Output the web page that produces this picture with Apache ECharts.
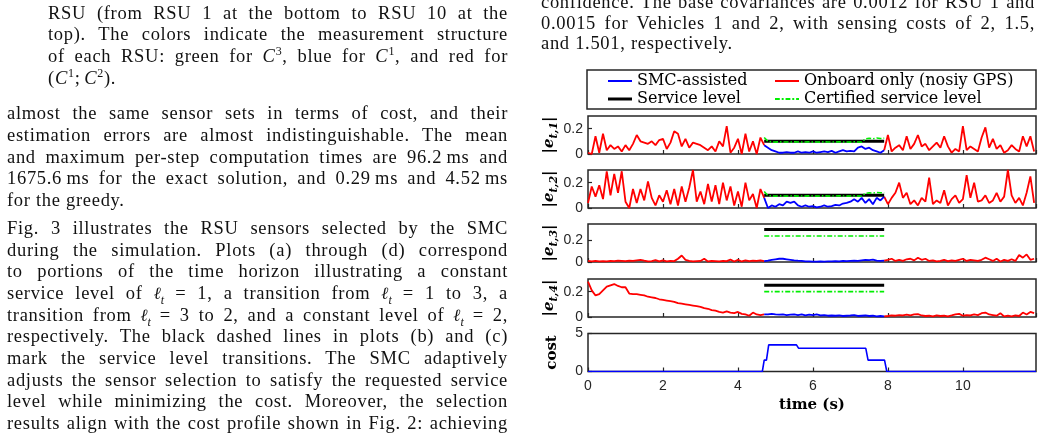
<!DOCTYPE html>
<html>
<head>
<meta charset="utf-8">
<script src="https://cdn.jsdelivr.net/npm/echarts@6/dist/echarts.min.js"></script>
<style>
html, body { margin: 0; padding: 0; background: #fff; overflow: hidden; }
#chart { position: absolute; left: 0; top: 0; width: 1045px; height: 439px; }
.ln {
	position: absolute; height: 20px; line-height: 20px;
	font-family: "Liberation Serif", serif; font-size: 18.5px; letter-spacing: 0.7px; color: #111;
	white-space: nowrap; text-align: justify; text-align-last: justify;
}
.ln.end { text-align: left; text-align-last: left; }
.ln sup, .ln sub { font-size: 12px; line-height: 0; }
.ln .m { display: inline-block; letter-spacing: 0; }
.ln .ell { font-family: "DejaVu Serif", serif; font-style: italic; font-size: 17px; }
</style>
</head>
<body>
<div id="chart"></div>

<!-- left column -->
<div class="ln" style="left:48px;top:3px;width:460px">RSU (from RSU 1 at the bottom to RSU 10 at the</div>
<div class="ln" style="left:48px;top:24px;width:460px">top). The colors indicate the measurement structure</div>
<div class="ln" style="left:48px;top:46px;width:460px">of each RSU: green for <i>C</i><sup>3</sup>, blue for <i>C</i><sup>1</sup>, and red for</div>
<div class="ln end" style="left:48px;top:68px;width:460px">(<i>C</i><sup>1</sup>;<span class="m">&#8201;</span><i>C</i><sup>2</sup>).</div>

<div class="ln" style="left:7px;top:103px;width:501px">almost the same sensor sets in terms of cost, and their</div>
<div class="ln" style="left:7px;top:125px;width:501px">estimation errors are almost indistinguishable. The mean</div>
<div class="ln" style="left:7px;top:147px;width:501px">and maximum per-step computation times are 96.2&#8201;ms and</div>
<div class="ln" style="left:7px;top:168px;width:501px">1675.6&#8201;ms for the exact solution, and 0.29&#8201;ms and 4.52&#8201;ms</div>
<div class="ln end" style="left:7px;top:190px;width:501px">for the greedy.</div>

<div class="ln" style="left:7px;top:218px;width:501px">Fig. 3 illustrates the RSU sensors selected by the SMC</div>
<div class="ln" style="left:7px;top:240px;width:501px">during the simulation. Plots (a) through (d) correspond</div>
<div class="ln" style="left:7px;top:261px;width:501px">to portions of the time horizon illustrating a constant</div>
<div class="ln" style="left:7px;top:283px;width:501px">service level of <span class="m"><span class="ell">ℓ</span><sub><i>t</i></sub></span> = 1, a transition from <span class="m"><span class="ell">ℓ</span><sub><i>t</i></sub></span> = 1 to 3, a</div>
<div class="ln" style="left:7px;top:305px;width:501px">transition from <span class="m"><span class="ell">ℓ</span><sub><i>t</i></sub></span> = 3 to 2, and a constant level of <span class="m"><span class="ell">ℓ</span><sub><i>t</i></sub></span> = 2,</div>
<div class="ln" style="left:7px;top:326px;width:501px">respectively. The black dashed lines in plots (b) and (c)</div>
<div class="ln" style="left:7px;top:348px;width:501px">mark the service level transitions. The SMC adaptively</div>
<div class="ln" style="left:7px;top:370px;width:501px">adjusts the sensor selection to satisfy the requested service</div>
<div class="ln" style="left:7px;top:391px;width:501px">level while minimizing the cost. Moreover, the selection</div>
<div class="ln" style="left:7px;top:413px;width:501px">results align with the cost profile shown in Fig. 2: achieving</div>

<!-- right column -->
<div class="ln" style="left:541px;top:-8px;width:494px">confidence. The base covariances are 0.0012 for RSU 1 and</div>
<div class="ln" style="left:541px;top:13px;width:494px">0.0015 for Vehicles 1 and 2, with sensing costs of 2, 1.5,</div>
<div class="ln end" style="left:541px;top:33px;width:494px">and 1.501, respectively.</div>

<script>
// sample step (s) of the error traces
const dt = 0.1
const tOn = 4.7   // SMC switched on
const tOff = 7.9  // SMC switched off

// |e_{t,1}|
const e1RedA = [0.01, 0.00, 0.14, 0.01, 0.16, 0.03, 0.07, 0.04, 0.06, 0.02, 0.07, 0.03, 0.08, 0.15, 0.10, 0.09, 0.08, 0.10, 0.07, 0.11, 0.12, 0.04, 0.09, 0.18, 0.16, 0.06, 0.12, 0.05, 0.09, 0.08, 0.07, 0.05, 0.03, 0.06, 0.02, 0.10, 0.06, 0.22, 0.01, 0.05, 0.12, 0.00, 0.16, 0.02, 0.10, 0.00, 0.13, 0.07]
const e1Smc = [0.07, 0.05, 0.03, 0.02, 0.01, 0.01, 0.015, 0.01, 0.01, 0.02, 0.01, 0.015, 0.01, 0.02, 0.01, 0.015, 0.02, 0.015, 0.025, 0.01, 0.02, 0.03, 0.02, 0.025, 0.02, 0.05, 0.06, 0.04, 0.05, 0.03, 0.02, 0.01, 0.03]
const e1RedB = [0.03, 0.15, 0.02, 0.05, 0.07, 0.03, 0.14, 0.04, 0.08, 0.15, 0.06, 0.08, 0.03, 0.06, 0.09, 0.05, 0.14, 0.06, 0.01, 0.04, 0.02, 0.22, 0.03, 0.06, 0.04, 0.02, 0.13, 0.21, 0.05, 0.12, 0.04, 0.07, 0.01, 0.03, 0.07, 0.04, 0.02, 0.14, 0.06, 0.14, 0.02]
const e1Cert = [0.13, 0.10, 0.095, 0.094, 0.096, 0.094, 0.095, 0.094, 0.096, 0.095, 0.094, 0.095, 0.096, 0.094, 0.095, 0.094, 0.096, 0.095, 0.094, 0.095, 0.096, 0.094, 0.095, 0.094, 0.096, 0.095, 0.094, 0.12, 0.125, 0.12, 0.126, 0.122, 0.125]

// |e_{t,2}|
const e2RedA = [0.04, 0.17, 0.09, 0.18, 0.07, 0.29, 0.10, 0.27, 0.12, 0.29, 0.05, 0.00, 0.15, 0.04, 0.15, 0.06, 0.21, 0.08, 0.02, 0.10, 0.05, 0.14, 0.03, 0.15, 0.02, 0.17, 0.05, 0.16, 0.30, 0.05, 0.13, 0.03, 0.19, 0.05, 0.18, 0.03, 0.20, 0.06, 0.17, 0.02, 0.13, 0.01, 0.20, 0.06, 0.11, 0.00, 0.15, 0.08]
const e2Smc = [0.08, 0.00, 0.02, 0.01, 0.03, 0.02, 0.05, 0.04, 0.05, 0.02, 0.01, 0.02, 0.01, 0.015, 0.005, 0.01, 0.02, 0.01, 0.015, 0.025, 0.02, 0.035, 0.04, 0.05, 0.07, 0.05, 0.08, 0.04, 0.07, 0.03, 0.08, 0.06, 0.09]
const e2RedB = [0.09, 0.03, 0.08, 0.12, 0.20, 0.08, 0.12, 0.03, 0.06, 0.02, 0.08, 0.05, 0.24, 0.03, 0.06, 0.04, 0.14, 0.02, 0.07, 0.10, 0.04, 0.07, 0.26, 0.08, 0.20, 0.05, 0.06, 0.10, 0.04, 0.06, 0.12, 0.05, 0.09, 0.30, 0.10, 0.04, 0.08, 0.02, 0.12, 0.25, 0.04]
const e2Cert = [0.13, 0.098, 0.095, 0.094, 0.096, 0.095, 0.094, 0.095, 0.096, 0.094, 0.095, 0.094, 0.096, 0.095, 0.094, 0.095, 0.096, 0.094, 0.095, 0.094, 0.096, 0.095, 0.094, 0.095, 0.096, 0.094, 0.095, 0.115, 0.12, 0.118, 0.122, 0.12, 0.12]

// |e_{t,3}|
const e3RedA = [0.01, 0.005, 0.01, 0.005, 0.008, 0.005, 0.01, 0.008, 0.012, 0.01, 0.008, 0.012, 0.01, 0.015, 0.02, 0.012, 0.005, 0.008, 0.018, 0.005, 0.015, 0.005, 0.01, 0.008, 0.03, 0.06, 0.02, 0.01, 0.005, 0.008, 0.01, 0.03, 0.005, 0.01, 0.008, 0.005, 0.01, 0.008, 0.022, 0.005, 0.02, 0.005, 0.015, 0.008, 0.012, 0.01, 0.015, 0.008]
const e3Smc = [0.008, 0.012, 0.02, 0.025, 0.03, 0.03, 0.025, 0.02, 0.015, 0.012, 0.01, 0.005, 0.006, 0.004, 0.003, 0.005, 0.004, 0.006, 0.005, 0.008, 0.006, 0.01, 0.008, 0.01, 0.012, 0.01, 0.015, 0.02, 0.018, 0.022, 0.012, 0.01, 0.012]
const e3RedB = [0.012, 0.02, 0.03, 0.01, 0.02, 0.01, 0.025, 0.03, 0.015, 0.04, 0.02, 0.03, 0.01, 0.015, 0.005, 0.01, 0.02, 0.008, 0.015, 0.01, 0.02, 0.03, 0.01, 0.02, 0.015, 0.01, 0.02, 0.04, 0.025, 0.01, 0.03, 0.005, 0.02, 0.01, 0.025, 0.01, 0.065, 0.04, 0.07, 0.02, 0.03]
const e3Cert = 0.24

// |e_{t,4}|
const e4RedA = [0.28, 0.21, 0.17, 0.18, 0.21, 0.24, 0.25, 0.26, 0.245, 0.235, 0.235, 0.185, 0.18, 0.18, 0.175, 0.17, 0.16, 0.155, 0.15, 0.14, 0.135, 0.13, 0.125, 0.12, 0.11, 0.105, 0.10, 0.095, 0.09, 0.085, 0.08, 0.07, 0.065, 0.055, 0.05, 0.04, 0.035, 0.045, 0.035, 0.03, 0.04, 0.025, 0.02, 0.01, 0.035, 0.02, 0.015, 0.02]
const e4Smc = [0.02, 0.02, 0.025, 0.02, 0.018, 0.02, 0.015, 0.018, 0.02, 0.015, 0.02, 0.012, 0.018, 0.015, 0.02, 0.012, 0.015, 0.01, 0.012, 0.01, 0.012, 0.008, 0.01, 0.012, 0.015, 0.008, 0.01, 0.012, 0.008, 0.01, 0.005, 0.008, 0.005]
const e4RedB = [0.005, 0.008, 0.012, 0.01, 0.015, 0.012, 0.018, 0.012, 0.02, 0.022, 0.012, 0.008, 0.01, 0.005, 0.012, 0.008, 0.01, 0.005, 0.012, 0.02, 0.025, 0.01, 0.015, 0.012, 0.02, 0.015, 0.03, 0.035, 0.02, 0.015, 0.01, 0.03, 0.005, 0.01, 0.005, 0.012, 0.008, 0.035, 0.02, 0.04, 0.03]
const e4Cert = 0.2

// requested service level per state
const serviceLevel = [0.1, 0.1, 0.3, 0.25]

// sensing cost (piecewise constant)
const costTime = [0, 4.65, 4.7, 4.76, 4.82, 5.56, 5.62, 7.41, 7.47, 7.91, 7.97, 11.95]
const costValue = [0, 0, 1.5, 1.5, 3.5, 3.5, 3.05, 3.05, 1.5, 1.5, 0, 0]

const yMax = [0.3, 0.3, 0.35, 0.3, 5]
const yStep = [0.2, 0.2, 0.2, 0.2, 5]
const gridTop = [116, 170, 224, 279, 333.5]

const RED = '#ff0000'
const BLUE = '#0000ff'
const GREEN = '#00ee00'
const AXIS = '#262626'

function seq(start, arr) {
	return arr.map((v, i) => [+(start + i * dt).toFixed(2), v])
}

function line(name, idx, data, color, width, type) {
	return {
		name: name,
		type: 'line',
		xAxisIndex: idx,
		yAxisIndex: idx,
		data: data,
		showSymbol: false,
		symbol: 'none',
		lineStyle: { color: color, width: width, type: type || 'solid' },
		itemStyle: { color: color },
		animation: false
	}
}

const panels = [
	{ redA: e1RedA, smc: e1Smc, redB: e1RedB, cert: e1Cert },
	{ redA: e2RedA, smc: e2Smc, redB: e2RedB, cert: e2Cert },
	{ redA: e3RedA, smc: e3Smc, redB: e3RedB, cert: e3Cert },
	{ redA: e4RedA, smc: e4Smc, redB: e4RedB, cert: e4Cert }
]

const series = []
panels.forEach((p, i) => {
	series.push(line('Onboard only (nosiy GPS)', i, seq(0, p.redA), RED, 1.8))
	series.push(line('Onboard only (nosiy GPS)', i, seq(tOff, p.redB), RED, 1.8))
	series.push(line('SMC-assisted', i, seq(tOn, p.smc), BLUE, 1.8))
	series.push(line('Service level', i, [[tOn, serviceLevel[i]], [tOff, serviceLevel[i]]], '#000', 3))
	const certData = Array.isArray(p.cert) ? seq(tOn, p.cert) : [[tOn, p.cert], [tOff, p.cert]]
	series.push(line('Certified service level', i, certData, GREEN, 1.6, [5, 2, 1.5, 2]))
})
series.push(line('SMC-assisted', 4, costTime.map((t, k) => [t, costValue[k]]), BLUE, 1.6))

const labelFont = { fontFamily: 'Liberation Sans', fontSize: 14, color: AXIS }
const nameFont = { fontFamily: 'DejaVu Serif', fontWeight: 'bold', fontSize: 15, color: '#000' }

function errName(k) {
	return '{b||}{e|e}{s|t,' + k + '}{b||}'
}
const errRich = {
	b: { fontFamily: 'DejaVu Serif', fontWeight: 'bold', fontSize: 15, lineHeight: 22, color: '#000' },
	e: { fontFamily: 'DejaVu Serif', fontWeight: 'bold', fontStyle: 'italic', fontSize: 15, lineHeight: 22, color: '#000' },
	s: { fontFamily: 'DejaVu Serif', fontWeight: 'bold', fontStyle: 'italic', fontSize: 11, lineHeight: 12, verticalAlign: 'bottom', color: '#000' }
}

const grids = [], xAxes = [], yAxes = []
for (let i = 0; i < 5; i++) {
	grids.push({
		left: 588, width: 448, top: gridTop[i], height: 38,
		show: true, borderColor: AXIS, borderWidth: 1.5, backgroundColor: 'transparent'
	})
	xAxes.push({
		gridIndex: i, type: 'value', min: 0, max: 11.95, interval: 2,
		axisLine: { show: false },
		axisTick: { inside: true, length: 4, lineStyle: { color: AXIS, width: 1.2 } },
		axisLabel: Object.assign({ show: i === 4, margin: 8, showMaxLabel: false }, labelFont),
		splitLine: { show: false },
		name: i === 4 ? 'time (s)' : '',
		nameLocation: 'middle', nameGap: 26,
		nameTextStyle: nameFont
	})
	yAxes.push({
		gridIndex: i, type: 'value', min: 0, max: yMax[i], interval: yStep[i],
		axisLine: { show: false },
		axisTick: { inside: true, length: 4, lineStyle: { color: AXIS, width: 1.2 } },
		axisLabel: Object.assign({ margin: 5, showMaxLabel: i === 4 }, labelFont),
		splitLine: { show: false },
		name: i === 4 ? 'cost' : errName(i + 1),
		nameLocation: 'middle', nameRotate: 90, nameGap: 28,
		nameTextStyle: i === 4 ? nameFont : { rich: errRich }
	})
}

// legend keys: plain strokes, no markers
const solidKey = 'path://M0,0h25v2h-25z'
const thickKey = 'path://M0,0h25v3h-25z'
const dashDotKey = 'path://M0,0h5v2h-5zM7,0h2v2h-2zM11,0h5v2h-5zM18,0h2v2h-2zM22,0h3v2h-3z'

const legendText = { fontFamily: 'DejaVu Serif', fontSize: 16, color: '#000' }
function legendAt(name, icon, h, left, top) {
	return {
		data: [{ name: name, icon: icon }], left: left, top: top,
		itemWidth: 24, itemHeight: h, symbolKeepAspect: false,
		padding: 0, selectedMode: false, textStyle: legendText
	}
}

const chart = echarts.init(document.getElementById('chart'))
chart.setOption({
	animation: false,
	grid: grids,
	xAxis: xAxes,
	yAxis: yAxes,
	legend: [
		legendAt('SMC-assisted', solidKey, 2, 608, 73),
		legendAt('Onboard only (nosiy GPS)', solidKey, 2, 775, 73),
		legendAt('Service level', thickKey, 3, 608, 91),
		legendAt('Certified service level', dashDotKey, 2, 775, 91)
	],
	graphic: [{
		type: 'rect', z: 0,
		shape: { x: 587, y: 70, width: 449, height: 39 },
		style: { fill: 'none', stroke: AXIS, lineWidth: 1.5 }
	}],
	series: series
})
</script>
</body>
</html>
